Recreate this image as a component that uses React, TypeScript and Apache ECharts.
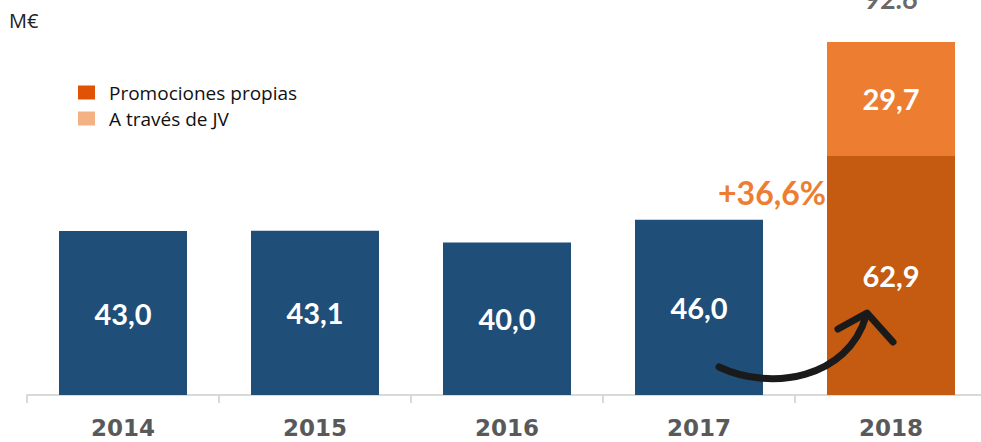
import React, { useEffect, useRef } from "react";
import * as echarts from "echarts";

const categories = ["2014", "2015", "2016", "2017", "2018"];
const promocionesPropias = [43.0, 43.1, 40.0, 46.0, 62.9];
const atravesJV = [null, null, null, null, 29.7];
const totals = [null, null, null, null, 92.6];
const growthLabel = "+36,6%";
const unitLabel = "M€";
const legendNames = ["Promociones propias", "A través de JV"];

const BLUE = "#1F4E79";
const DARK_ORANGE = "#C55A11";
const LIGHT_ORANGE = "#ED7D31";
const FONT = "Lato, 'Open Sans', sans-serif";

const fmt = (v: number) => v.toFixed(1).replace(".", ",");

export default function App() {
  const ref = useRef<HTMLDivElement>(null);
  useEffect(() => {
    if (!ref.current) return;
    const chart = echarts.init(ref.current, null, { renderer: "svg" });
    const valueLabel = {
      show: true,
      position: "inside" as const,
      color: "#ffffff",
      fontFamily: FONT,
      fontWeight: "bold" as const,
      fontSize: 29,
      formatter: (p: any) => fmt(p.value),
    };
    chart.setOption({
      animation: false,
      grid: { left: 27, top: 13.8, width: 960, bottom: 47, containLabel: false },
      legend: {
        orient: "vertical",
        left: 73,
        top: 78,
        itemWidth: 17,
        itemHeight: 14,
        itemGap: 7,
        selectedMode: false,
        textStyle: { fontFamily: "'Open Sans', sans-serif", fontSize: 19, color: "#111111", padding: [0, 0, 0, 9] },
        data: [
          { name: legendNames[0], icon: "rect", itemStyle: { color: "#E05206" } },
          { name: legendNames[1], icon: "rect", itemStyle: { color: "#F4B183" } },
        ],
      },
      xAxis: {
        type: "category",
        data: categories,
        boundaryGap: true,
        axisLine: { show: true, lineStyle: { color: "#d9d9d9", width: 2 } },
        axisTick: { show: true, alignWithLabel: false, length: 8, lineStyle: { color: "#d9d9d9", width: 2 } },
        axisLabel: {
          margin: 21,
          color: "#595959",
          fontFamily: "'DejaVu Sans', sans-serif",
          fontWeight: "bold",
          fontSize: 23,
        },
      },
      yAxis: {
        type: "value",
        min: 0,
        max: 100,
        show: false,
        splitLine: { show: false },
      },
      series: [
        {
          name: legendNames[0],
          type: "bar",
          stack: "total",
          barWidth: 128,
          data: promocionesPropias.map((v, i) => ({
            value: v,
            itemStyle: { color: i === 4 ? DARK_ORANGE : BLUE },
          })),
          label: valueLabel,
        },
        {
          name: legendNames[1],
          type: "bar",
          stack: "total",
          barWidth: 128,
          data: atravesJV,
          itemStyle: { color: LIGHT_ORANGE },
          label: valueLabel,
        },
        {
          name: "total",
          type: "scatter",
          symbolSize: 0,
          data: totals,
          clip: false,
          label: {
            show: true,
            position: "top",
            distance: 30,
            color: "#404040",
            fontFamily: FONT,
            fontWeight: "bold",
            fontSize: 27,
            formatter: (p: any) => (p.value == null ? "" : p.value.toFixed(1)),
          },
        },
      ],
      graphic: [
        {
          type: "text",
          left: 9,
          top: 10,
          z: 100,
          style: { text: unitLabel, fontFamily: "'Open Sans', sans-serif", fontSize: 20, fill: "#222222" },
        },
        {
          type: "text",
          x: 772,
          y: 192,
          z: 100,
          style: {
            text: growthLabel,
            fontFamily: FONT,
            fontWeight: "bold",
            fontSize: 32,
            fill: LIGHT_ORANGE,
            align: "center",
            verticalAlign: "middle",
          },
        },
        {
          type: "bezierCurve",
          z: 100,
          shape: { x1: 719, y1: 367, cpx1: 772, cpy1: 392, cpx2: 848, cpy2: 378, x2: 866, y2: 316 },
          style: { stroke: "#1a1a1a", lineWidth: 7, fill: "none", lineCap: "round" },
        },
        {
          type: "polyline",
          z: 100,
          shape: { points: [[838, 329], [867, 313], [893, 342]] },
          style: { stroke: "#1a1a1a", lineWidth: 7, fill: "none", lineCap: "round", lineJoin: "round" },
        },
      ],
    });
    return () => chart.dispose();
  }, []);
  return (
    <div style={{ position: "fixed", left: 0, top: 0, width: 981, height: 442, overflow: "hidden", background: "#ffffff" }}>
      <div ref={ref} style={{ width: 992, height: 442 }} />
    </div>
  );
}
